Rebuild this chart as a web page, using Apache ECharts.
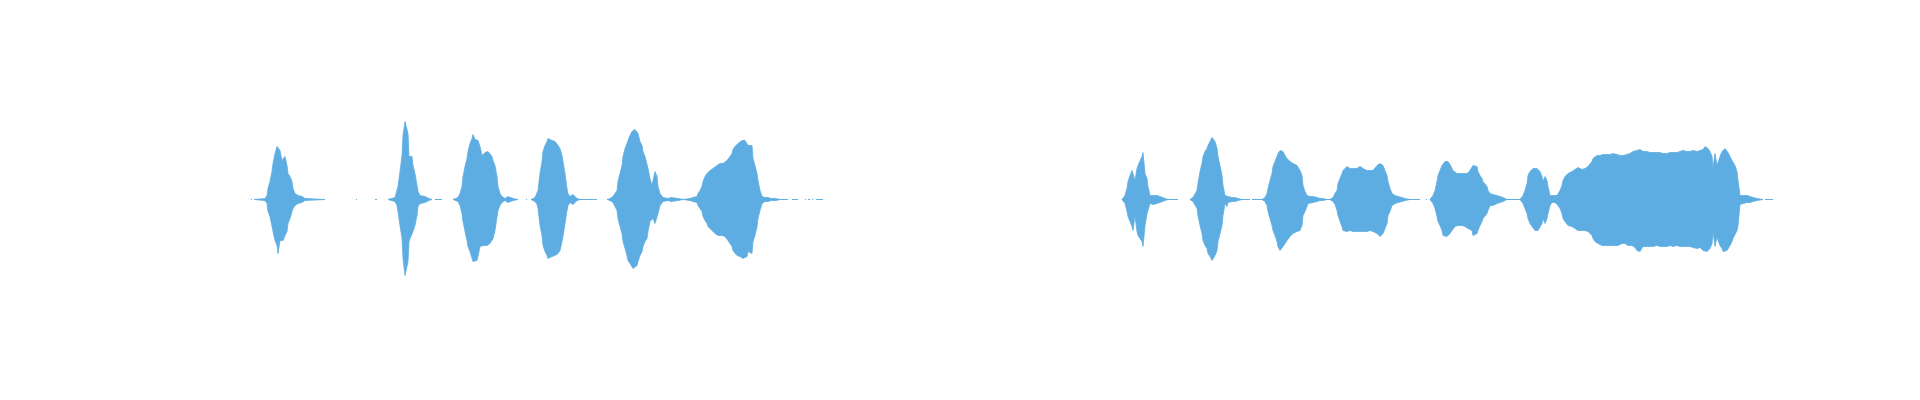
<!DOCTYPE html>
<html>
<head>
<meta charset="utf-8">
<title>Waveforms</title>
<script src="https://cdn.jsdelivr.net/npm/echarts@6/dist/echarts.min.js"></script>
<style>
  html, body { margin: 0; padding: 0; background: #fff; }
  #chart { width: 1920px; height: 400px; }
</style>
</head>
<body>
<div id="chart"></div>
<script>
// two recorded clips, envelope read off the picture
// time in seconds, amplitude in % of full scale (null = silence gap)
var waveColor = '#5dade2';

var leftTime = [
  0.00, 0.01, 0.02, 0.03, 0.14, 0.16, 0.17, 0.19, 0.21, 0.22,
  0.24, 0.26, 0.27, 0.29, 0.31, 0.32, 0.34, 0.36, 0.37, 0.39,
  0.41, 0.42, 0.44, 0.47, 0.51, 0.54, 0.74, 0.75, 1.05, 1.06,
  1.07, 1.24, 1.26, 1.27, 1.37, 1.44, 1.46, 1.47, 1.49, 1.51,
  1.52, 1.54, 1.55, 1.57, 1.58, 1.59, 1.61, 1.62, 1.64, 1.66,
  1.67, 1.69, 1.71, 1.74, 1.76, 1.78, 1.81, 1.82, 1.84, 1.91,
  1.92, 2.02, 2.07, 2.09, 2.11, 2.12, 2.14, 2.16, 2.17, 2.19,
  2.21, 2.22, 2.24, 2.26, 2.27, 2.29, 2.31, 2.32, 2.34, 2.36,
  2.37, 2.39, 2.41, 2.42, 2.44, 2.46, 2.47, 2.49, 2.51, 2.52,
  2.54, 2.57, 2.59, 2.62, 2.67, 2.68, 2.75, 2.76, 2.77, 2.80,
  2.84, 2.86, 2.87, 2.89, 2.91, 2.92, 2.94, 2.96, 2.97, 2.99,
  3.01, 3.02, 3.04, 3.06, 3.07, 3.09, 3.11, 3.12, 3.14, 3.16,
  3.17, 3.19, 3.21, 3.22, 3.24, 3.26, 3.29, 3.46, 3.47, 3.56,
  3.59, 3.61, 3.62, 3.64, 3.66, 3.67, 3.69, 3.71, 3.72, 3.74,
  3.76, 3.77, 3.79, 3.81, 3.82, 3.84, 3.86, 3.87, 3.89, 3.91,
  3.92, 3.94, 3.96, 3.97, 3.99, 4.01, 4.02, 4.04, 4.06, 4.07,
  4.09, 4.11, 4.12, 4.14, 4.17, 4.20, 4.22, 4.27, 4.32, 4.39,
  4.42, 4.44, 4.46, 4.47, 4.49, 4.51, 4.52, 4.54, 4.56, 4.57,
  4.59, 4.61, 4.62, 4.64, 4.66, 4.67, 4.69, 4.71, 4.72, 4.74,
  4.76, 4.77, 4.79, 4.81, 4.82, 4.84, 4.86, 4.87, 4.89, 4.91,
  4.92, 4.94, 4.96, 4.97, 4.99, 5.01, 5.02, 5.04, 5.06, 5.07,
  5.09, 5.11, 5.12, 5.14, 5.17, 5.20, 5.25, 5.29, 5.37, 5.38,
  5.41, 5.47, 5.48, 5.54, 5.55, 5.56, 5.57, 5.59, 5.60, 5.61,
  5.62, 5.63, 5.65, 5.72
];
var leftUpper = [
  0, 0, null, 0, 1, 4, 11, 18, 28, 36,
  46, 53, 54, 49, 39, 41, 43, 34, 26, 23,
  18, 11, 6, 4, 3, 1, 0, null, 0, 0,
  null, 0, 0, null, 0, 2, 4, 13, 28, 44,
  64, 78, 78, 66, 43, 41, 43, 34, 26, 14,
  8, 4, 3, 3, 3, 1, 0, null, 0, 0,
  null, 0, 2, 6, 13, 23, 33, 41, 48, 56,
  61, 65, 60, 60, 59, 53, 44, 46, 47, 48,
  48, 46, 43, 39, 34, 23, 13, 6, 3, 2,
  1, 3, 2, 1, 0, null, 0, 0, null, 0,
  2, 4, 9, 26, 38, 48, 54, 58, 61, 61,
  59, 59, 58, 56, 54, 51, 44, 38, 26, 11,
  6, 3, 2, 5, 3, 1, 0, 0, null, 0,
  1, 2, 3, 4, 9, 18, 26, 34, 43, 51,
  56, 59, 64, 68, 70, 70, 68, 66, 58, 54,
  48, 43, 41, 31, 21, 14, 16, 28, 23, 13,
  6, 4, 2, 2, 1, 2, 1, 1, 0, 1,
  2, 3, 3, 6, 9, 13, 18, 23, 26, 28,
  29, 29, 31, 33, 34, 36, 36, 36, 36, 38,
  39, 41, 43, 46, 50, 53, 54, 56, 58, 59,
  59, 59, 58, 54, 53, 54, 41, 34, 26, 19,
  9, 3, 2, 2, 2, 1, 1, 0, 0, null,
  0, 0, null, 0, 0, null, 0, 0, null, 0,
  0, null, 0, 0
];
var leftLower = [
  0, 0, null, 0, 1, 4, 12, 17, 27, 32,
  41, 46, 54, 41, 39, 41, 36, 32, 24, 19,
  12, 9, 6, 4, 3, 1, 0, null, 0, 0,
  null, 0, 0, null, 0, 2, 6, 12, 26, 39,
  59, 76, 78, 62, 42, 39, 41, 32, 26, 16,
  7, 4, 3, 3, 3, 1, 0, null, 0, 0,
  null, 0, 2, 6, 14, 22, 32, 41, 47, 52,
  59, 62, 61, 61, 57, 47, 49, 46, 44, 46,
  47, 44, 42, 39, 31, 17, 11, 6, 3, 2,
  1, 3, 2, 1, 0, null, 0, 0, null, 0,
  2, 5, 9, 26, 36, 46, 52, 56, 59, 61,
  57, 57, 56, 56, 54, 51, 42, 37, 24, 11,
  6, 3, 2, 5, 3, 1, 0, 0, null, 0,
  1, 2, 3, 5, 11, 19, 27, 34, 42, 49,
  56, 61, 64, 66, 69, 69, 66, 62, 56, 52,
  47, 42, 39, 32, 22, 22, 19, 24, 22, 14,
  6, 4, 2, 3, 1, 2, 1, 1, 0, 1,
  2, 3, 3, 6, 9, 12, 17, 21, 24, 27,
  29, 31, 32, 34, 34, 36, 36, 36, 37, 37,
  39, 41, 42, 47, 51, 52, 56, 57, 57, 58,
  59, 60, 57, 52, 52, 54, 42, 36, 27, 19,
  11, 4, 2, 2, 2, 1, 1, 0, 0, null,
  0, 0, null, 0, 0, null, 0, 0, null, 0,
  0, null, 0, 0
];

var rightTime = [
  0.00, 0.01, 0.03, 0.05, 0.06, 0.08, 0.10, 0.11, 0.13, 0.15,
  0.16, 0.18, 0.20, 0.21, 0.23, 0.25, 0.26, 0.28, 0.30, 0.31,
  0.33, 0.35, 0.36, 0.38, 0.40, 0.43, 0.46, 0.56, 0.57, 0.68,
  0.71, 0.73, 0.75, 0.76, 0.78, 0.80, 0.81, 0.83, 0.85, 0.86,
  0.88, 0.90, 0.91, 0.93, 0.95, 0.96, 0.98, 1.00, 1.01, 1.03,
  1.05, 1.06, 1.08, 1.10, 1.11, 1.13, 1.16, 1.20, 1.28, 1.29,
  1.30, 1.40, 1.41, 1.43, 1.45, 1.46, 1.48, 1.50, 1.51, 1.53,
  1.55, 1.56, 1.58, 1.60, 1.61, 1.63, 1.65, 1.66, 1.68, 1.70,
  1.71, 1.73, 1.75, 1.76, 1.78, 1.80, 1.81, 1.83, 1.85, 1.86,
  1.88, 1.91, 1.95, 1.98, 2.01, 2.05, 2.08, 2.11, 2.13, 2.15,
  2.16, 2.18, 2.20, 2.21, 2.23, 2.25, 2.26, 2.28, 2.30, 2.31,
  2.33, 2.35, 2.36, 2.38, 2.40, 2.41, 2.43, 2.45, 2.46, 2.48,
  2.50, 2.51, 2.53, 2.55, 2.56, 2.58, 2.60, 2.61, 2.63, 2.65,
  2.66, 2.68, 2.70, 2.71, 2.73, 2.75, 2.76, 2.80, 2.83, 2.88,
  2.98, 2.99, 3.04, 3.05, 3.06, 3.08, 3.10, 3.11, 3.13, 3.15,
  3.16, 3.18, 3.20, 3.21, 3.23, 3.25, 3.26, 3.28, 3.30, 3.31,
  3.33, 3.35, 3.36, 3.38, 3.40, 3.41, 3.43, 3.45, 3.46, 3.48,
  3.50, 3.51, 3.53, 3.55, 3.56, 3.58, 3.60, 3.61, 3.63, 3.65,
  3.66, 3.68, 3.70, 3.71, 3.73, 3.75, 3.76, 3.78, 3.80, 3.81,
  3.83, 3.85, 3.98, 4.00, 4.01, 4.03, 4.05, 4.06, 4.08, 4.10,
  4.11, 4.13, 4.15, 4.16, 4.18, 4.20, 4.21, 4.23, 4.25, 4.26,
  4.28, 4.30, 4.31, 4.33, 4.35, 4.36, 4.38, 4.40, 4.41, 4.43,
  4.45, 4.46, 4.48, 4.50, 4.51, 4.53, 4.55, 4.56, 4.58, 4.60,
  4.61, 4.63, 4.65, 4.66, 4.68, 4.70, 4.71, 4.73, 4.75, 4.76,
  4.78, 4.80, 4.81, 4.83, 4.85, 4.86, 4.88, 4.90, 4.91, 4.93,
  4.95, 4.96, 4.98, 5.00, 5.01, 5.03, 5.05, 5.06, 5.08, 5.10,
  5.11, 5.13, 5.15, 5.16, 5.18, 5.20, 5.21, 5.23, 5.25, 5.26,
  5.28, 5.30, 5.31, 5.33, 5.35, 5.36, 5.38, 5.40, 5.41, 5.43,
  5.45, 5.46, 5.48, 5.50, 5.51, 5.53, 5.55, 5.56, 5.58, 5.60,
  5.61, 5.63, 5.65, 5.66, 5.68, 5.70, 5.71, 5.73, 5.75, 5.76,
  5.78, 5.80, 5.81, 5.83, 5.85, 5.86, 5.88, 5.90, 5.91, 5.93,
  5.95, 5.96, 5.98, 6.00, 6.01, 6.03, 6.05, 6.06, 6.08, 6.10,
  6.11, 6.13, 6.15, 6.16, 6.18, 6.20, 6.21, 6.23, 6.25, 6.26,
  6.28, 6.30, 6.31, 6.33, 6.35, 6.36, 6.41, 6.42, 6.43, 6.51
];
var rightUpper = [
  0, 1, 4, 11, 18, 24, 29, 31, 19, 31,
  34, 36, 43, 47, 26, 21, 13, 4, 3, 4,
  3, 4, 4, 3, 2, 1, 0, 0, null, 0,
  2, 4, 9, 16, 28, 36, 43, 48, 51, 54,
  58, 62, 63, 58, 51, 43, 34, 24, 14, 4,
  6, 3, 4, 2, 3, 2, 1, 0, 0, null,
  0, 0, 1, 2, 6, 11, 19, 26, 33, 38,
  43, 46, 49, 51, 48, 44, 41, 39, 38, 36,
  36, 34, 34, 33, 29, 24, 14, 8, 4, 4,
  3, 3, 2, 1, 1, 0, 0, 2, 6, 9,
  16, 21, 26, 29, 31, 33, 33, 31, 29, 31,
  31, 31, 33, 33, 34, 31, 31, 29, 29, 29,
  29, 29, 29, 34, 35, 36, 38, 34, 29, 24,
  18, 11, 6, 4, 4, 4, 3, 2, 1, 0,
  0, null, 0, 0, null, 0, 2, 4, 9, 18,
  24, 29, 34, 36, 38, 38, 38, 35, 33, 29,
  28, 26, 26, 26, 26, 26, 26, 26, 28, 29,
  31, 34, 36, 33, 28, 24, 21, 18, 16, 13,
  9, 6, 4, 5, 4, 4, 3, 3, 2, 2,
  1, 0, 0, 2, 4, 9, 16, 24, 28, 29,
  31, 32, 31, 29, 28, 23, 18, 23, 19, 13,
  4, 3, 4, 3, 4, 6, 9, 14, 19, 23,
  24, 26, 28, 28, 29, 30, 31, 32, 31, 30,
  31, 31, 32, 33, 34, 38, 41, 43, 44, 44,
  44, 45, 45, 46, 45, 47, 45, 46, 46, 47,
  45, 45, 44, 44, 44, 44, 45, 45, 46, 47,
  48, 49, 49, 49, 50, 51, 48, 48, 48, 47,
  47, 48, 47, 48, 47, 47, 47, 47, 46, 47,
  46, 48, 47, 46, 47, 47, 47, 48, 48, 48,
  49, 48, 48, 48, 48, 48, 49, 49, 48, 49,
  49, 50, 50, 53, 53, 51, 48, 43, 31, 46,
  34, 36, 43, 48, 50, 51, 49, 47, 43, 39,
  38, 34, 28, 19, 4, 3, 4, 5, 4, 4,
  3, 2, 2, 2, 1, 0, 0, null, 0, 0
];
var rightLower = [
  0, 1, 4, 12, 17, 22, 27, 31, 16, 32,
  36, 39, 42, 47, 26, 14, 12, 4, 3, 5,
  3, 4, 4, 3, 2, 1, 0, 0, null, 0,
  2, 4, 9, 16, 26, 34, 41, 46, 49, 54,
  57, 61, 62, 56, 51, 42, 34, 26, 16, 4,
  7, 3, 4, 2, 3, 2, 1, 0, 0, null,
  0, 0, 1, 2, 6, 12, 19, 26, 31, 36,
  42, 47, 51, 49, 47, 44, 41, 39, 37, 36,
  34, 33, 32, 32, 31, 26, 16, 12, 7, 4,
  4, 3, 2, 1, 1, 0, 0, 2, 5, 11,
  16, 22, 27, 31, 32, 32, 32, 31, 32, 32,
  31, 32, 32, 32, 34, 32, 31, 32, 31, 31,
  31, 32, 32, 34, 36, 37, 37, 34, 29, 24,
  16, 12, 6, 4, 4, 4, 3, 2, 1, 0,
  0, null, 0, 0, null, 0, 2, 4, 9, 17,
  22, 26, 31, 36, 37, 37, 37, 34, 31, 29,
  27, 26, 26, 26, 26, 26, 27, 27, 29, 29,
  31, 36, 36, 34, 31, 26, 22, 19, 17, 14,
  11, 6, 5, 6, 4, 4, 3, 3, 2, 2,
  1, 0, 0, 2, 4, 9, 14, 19, 24, 27,
  29, 31, 32, 31, 29, 24, 19, 24, 19, 14,
  6, 3, 3, 3, 4, 6, 9, 14, 19, 22,
  24, 26, 27, 27, 29, 29, 31, 31, 32, 31,
  31, 31, 32, 32, 34, 36, 39, 42, 44, 44,
  46, 46, 46, 46, 47, 46, 46, 46, 47, 46,
  46, 46, 44, 44, 44, 44, 45, 46, 46, 46,
  47, 48, 51, 51, 52, 51, 47, 47, 47, 47,
  47, 46, 47, 47, 46, 47, 47, 47, 47, 47,
  47, 47, 46, 47, 47, 47, 46, 47, 47, 47,
  47, 48, 47, 48, 47, 48, 48, 49, 49, 49,
  48, 49, 51, 51, 52, 52, 49, 44, 32, 47,
  37, 41, 46, 49, 52, 52, 51, 49, 46, 42,
  39, 37, 31, 26, 5, 6, 4, 4, 3, 4,
  3, 3, 2, 2, 1, 0, 0, null, 0, 0
];

var leftDuration = 5.72;
var rightDuration = 6.51;

function toPoints(time, amp, sign) {
  var out = [];
  for (var i = 0; i < time.length; i++) {
    // '-' breaks the line so the silent gaps stay empty
    out.push([time[i], amp[i] === null ? '-' : sign * amp[i]]);
  }
  return out;
}

// each half fills a little past the zero line so the two halves meet without a seam
function waveSeries(name, idx, data, origin) {
  return {
    name: name,
    type: 'line',
    xAxisIndex: idx,
    yAxisIndex: idx,
    data: data,
    symbol: 'none',
    silent: true,
    connectNulls: false,
    lineStyle: { color: waveColor, width: 0.8 },
    areaStyle: { color: waveColor, opacity: 1, origin: origin }
  };
}

function hiddenAxis(extra) {
  var axis = {
    axisLine: { show: false },
    axisTick: { show: false },
    axisLabel: { show: false },
    splitLine: { show: false }
  };
  for (var k in extra) axis[k] = extra[k];
  return axis;
}

var chart = echarts.init(document.getElementById('chart'));

var option = {
  backgroundColor: '#fff',
  animation: false,
  grid: [
    { left: 251, top: 99.5, width: 572, height: 200 },
    { left: 1122, top: 99.5, width: 651, height: 200 }
  ],
  xAxis: [
    hiddenAxis({ type: 'value', gridIndex: 0, min: 0, max: leftDuration }),
    hiddenAxis({ type: 'value', gridIndex: 1, min: 0, max: rightDuration })
  ],
  yAxis: [
    hiddenAxis({ type: 'value', gridIndex: 0, min: -100, max: 100 }),
    hiddenAxis({ type: 'value', gridIndex: 1, min: -100, max: 100 })
  ],
  series: [
    waveSeries('left+', 0, toPoints(leftTime, leftUpper, 1), -0.5),
    waveSeries('left-', 0, toPoints(leftTime, leftLower, -1), 0.5),
    waveSeries('right+', 1, toPoints(rightTime, rightUpper, 1), -0.5),
    waveSeries('right-', 1, toPoints(rightTime, rightLower, -1), 0.5)
  ]
};

chart.setOption(option);
</script>
</body>
</html>
